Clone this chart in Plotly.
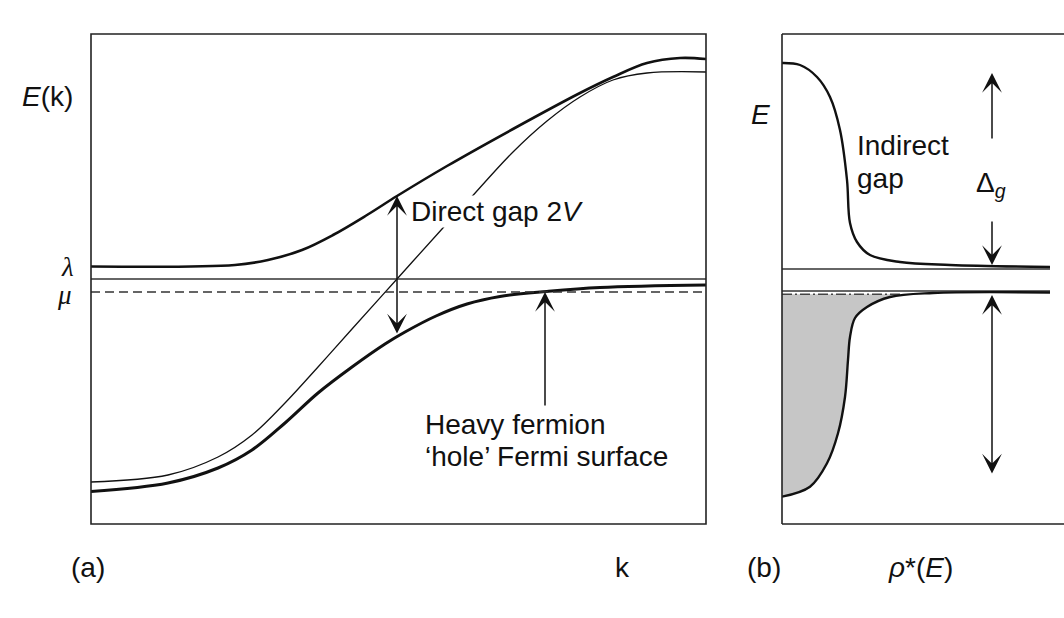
import plotly.graph_objects as go

# ---------------- data: panel (a), band structure E(k) ----------------
# k in arbitrary units across the zone, E in arbitrary energy units
k_cond = [0, 7.7, 12.7, 16.1, 19.4, 22.7, 26.1, 30.6, 35.1, 37.6,
          42.2, 45.6, 48.9, 52.2, 55.6, 61.5]
E_cond = [4.2, 4.9, 6.7, 8.9, 12.1, 15.7, 19.5, 24.5, 29.5, 32.2,
          37.2, 40.3, 42.7, 44.4, 45.1, 45.2]

k_upper = [0, 14.4, 17.7, 21.1, 24.2, 27.6, 30.6, 35.6, 42.2, 48.9, 52.2, 55.6,
           58.9, 61.5]
E_upper = [25.75, 25.9, 26.4, 27.4, 28.9, 30.9, 32.8, 35.8, 39.5, 43.1, 44.7,
           46.1, 46.6, 46.5]

k_lower = [0, 7.7, 12.7, 16.1, 19.4, 22.7, 26.1, 29.4, 31.4, 34.5, 37.6, 40.9,
           45.6, 50.9, 61.5]
E_lower = [3.25, 4.1, 5.6, 7.4, 10.1, 13.1, 15.7, 18.0, 19.2, 20.8, 22.0, 22.75,
           23.25, 23.65, 23.9]

lam = 24.5          # f-level
mu = 23.2           # chemical potential
k_cross = 30.6      # where the conduction band crosses lambda
gap_top, gap_bottom = 32.8, 18.9
k_fermi = 45.4      # heavy-fermion Fermi surface
fermi_tail = 11.7

# ---------------- data: panel (b), density of states ----------------
rho_up = [0, 1.8, 3.5, 4.8, 5.8, 6.5, 6.8, 7.5, 8.8, 11.8, 16.8, 26.8]
E_up = [46.1, 45.9, 44.7, 42.7, 39.4, 34.4, 30.1, 28.2, 26.9, 26.2, 25.9, 25.7]

rho_low = [0, 2.8, 4.5, 5.6, 6.3, 6.6, 6.8, 7.3, 8.5, 10.8, 15.1, 26.8]
E_low = [2.73, 3.73, 6.07, 9.07, 12.7, 16.4, 18.7, 20.6, 21.7, 22.7, 23.1, 23.15]

band_top_b = 25.5       # upper gap edge
band_bot_b = 23.3       # lower gap edge
mu_b = 22.97            # chemical potential in (b)
rho_mu = 12.0           # DOS curve meets mu here
rho_end = 26.8
rho_arrow = 21.0
dg_up = (38.4, 45.1)
dg_down = (30.4, 25.9)
occ_arrow = (22.9, 4.9)

W, H = 1064, 618
INK = "#111111"


def px(x):
    return x / W


def py(y):
    return 1 - y / H


fig = go.Figure()

# panel (a) curves
fig.add_trace(go.Scatter(x=k_cond, y=E_cond, mode="lines",
                         line=dict(color=INK, width=1.3, shape="spline"),
                         xaxis="x", yaxis="y"))
fig.add_trace(go.Scatter(x=k_upper, y=E_upper, mode="lines",
                         line=dict(color=INK, width=2.6, shape="spline"),
                         xaxis="x", yaxis="y"))
fig.add_trace(go.Scatter(x=k_lower, y=E_lower, mode="lines",
                         line=dict(color=INK, width=3.0, shape="spline"),
                         xaxis="x", yaxis="y"))
fig.add_trace(go.Scatter(x=[0, 61.5], y=[lam, lam], mode="lines",
                         line=dict(color="#333333", width=1.6),
                         xaxis="x", yaxis="y"))
fig.add_trace(go.Scatter(x=[0, 61.5], y=[mu, mu], mode="lines",
                         line=dict(color="#333333", width=1.6, dash="9px,5px"),
                         xaxis="x", yaxis="y"))

# panel (b): occupied states shaded
occ_idx = [i for i, e in enumerate(E_low) if e < mu_b]
fig.add_trace(go.Scatter(x=[rho_low[i] for i in occ_idx] + [rho_mu],
                         y=[E_low[i] for i in occ_idx] + [mu_b],
                         mode="lines", fill="tozerox", fillcolor="#c6c6c6",
                         line=dict(width=0, shape="spline", color="rgba(0,0,0,0)"),
                         xaxis="x2", yaxis="y2"))
fig.add_trace(go.Scatter(x=[0, rho_mu], y=[mu_b, mu_b], mode="lines",
                         line=dict(color="#444444", width=1.4, dash="10px,3px,2px,3px"),
                         xaxis="x2", yaxis="y2"))
fig.add_trace(go.Scatter(x=[0, rho_end], y=[band_top_b, band_top_b], mode="lines",
                         line=dict(color="#333333", width=1.5),
                         xaxis="x2", yaxis="y2"))
fig.add_trace(go.Scatter(x=[0, rho_end], y=[band_bot_b, band_bot_b], mode="lines",
                         line=dict(color="#333333", width=1.5),
                         xaxis="x2", yaxis="y2"))
fig.add_trace(go.Scatter(x=rho_up, y=E_up, mode="lines",
                         line=dict(color=INK, width=2.4, shape="spline"),
                         xaxis="x2", yaxis="y2"))
fig.add_trace(go.Scatter(x=rho_low, y=E_low, mode="lines",
                         line=dict(color=INK, width=2.4, shape="spline"),
                         xaxis="x2", yaxis="y2"))

ydom = [py(524), py(34)]
hidden = dict(showgrid=False, zeroline=False, showticklabels=False,
              ticks="", showline=False, fixedrange=True)
fig.update_layout(
    width=W, height=H, margin=dict(l=0, r=0, t=0, b=0),
    paper_bgcolor="white", plot_bgcolor="rgba(0,0,0,0)",
    showlegend=False,
    xaxis=dict(domain=[px(91), px(706)], range=[0, 61.5], **hidden),
    yaxis=dict(domain=ydom, range=[0, 49], **hidden),
    xaxis2=dict(domain=[px(782), 1.0], range=[0, 28.2], **hidden),
    yaxis2=dict(domain=ydom, range=[0, 49], **hidden),
)

# frames
frame = dict(color="#222222", width=1.6)
fig.add_shape(type="rect", xref="x domain", yref="y domain",
              x0=0, x1=1, y0=0, y1=1, line=frame, layer="above")
for (x0, y0, x1, y1) in [(0, 0, 0, 1), (0, 1, 1, 1), (0, 0, 1, 0)]:
    fig.add_shape(type="line", xref="x2 domain", yref="y2 domain",
                  x0=x0, y0=y0, x1=x1, y1=y1, line=frame, layer="above")


def arrow(xref, yref, x, y, ax, ay, both=False):
    fig.add_annotation(x=x, y=y, ax=ax, ay=ay, xref=xref, yref=yref,
                       axref=xref, ayref=yref, text="", showarrow=True,
                       arrowhead=3, arrowsize=2.2, arrowwidth=1.5,
                       arrowcolor=INK, startarrowhead=3, startarrowsize=2.2,
                       arrowside="end+start" if both else "end")


# panel (a) arrows
arrow("x", "y", k_cross, gap_top, k_cross, gap_bottom, both=True)
arrow("x", "y", k_fermi, mu, k_fermi, fermi_tail)
# panel (b) arrows
arrow("x2", "y2", rho_arrow, dg_up[1], rho_arrow, dg_up[0])
arrow("x2", "y2", rho_arrow, dg_down[1], rho_arrow, dg_down[0])
arrow("x2", "y2", rho_arrow, occ_arrow[0], rho_arrow, occ_arrow[1], both=True)

SANS = "Liberation Sans, Arial, sans-serif"
SERIF = "Liberation Serif, Times New Roman, serif"


def label(text, x, y, size=28, xanchor="left", family=SANS, bg=None):
    fig.add_annotation(x=px(x), y=py(y), xref="paper", yref="paper",
                       text=text, showarrow=False, xanchor=xanchor,
                       yanchor="middle", font=dict(family=family, size=size, color=INK),
                       bgcolor=bg, borderpad=0)


label("<i>E</i>(k)", 47, 97, xanchor="center")
label("<i>λ</i>", 67, 267, size=27, xanchor="center", family=SERIF)
label("<i>μ</i>", 64, 295, size=27, xanchor="center", family=SERIF)
label("Direct gap 2<i>V</i>", 410, 212, bg="white")
label("Heavy fermion", 424, 424)
label("‘hole’ Fermi surface", 424, 456)
label("(a)", 88, 567, xanchor="center")
label("k", 622, 567, xanchor="center")

label("<i>E</i>", 760, 114, xanchor="center")
label("Indirect", 856, 146)
label("gap", 856, 178)
label("Δ<sub><i>g</i></sub>", 975, 184)
label("(b)", 764, 567, xanchor="center")
label("<i>ρ</i>*(<i>E</i>)", 920, 567, xanchor="center")

fig.write_html("out.html")
